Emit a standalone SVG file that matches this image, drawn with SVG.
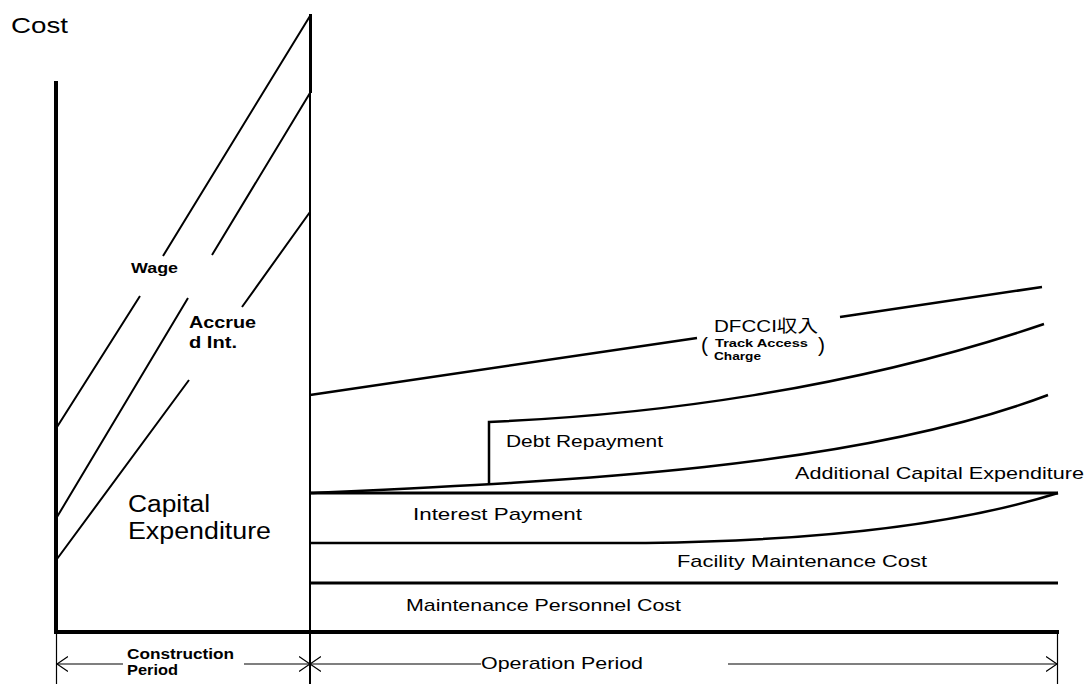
<svg xmlns="http://www.w3.org/2000/svg" width="1089" height="684" viewBox="0 0 1089 684">
  <style>
    .ln { fill: none; stroke: #000; stroke-linecap: butt; }
    .axis { stroke-width: 4; }
    .diag { stroke-width: 2; }
    .band { stroke-width: 3; }
    .curve { stroke-width: 2.5; }
    .dim { stroke-width: 1.2; }
    .t { font-family: "Liberation Sans", "Noto Sans CJK JP", sans-serif; fill: #000; }
    .b { font-weight: bold; }
  </style>
  <defs>
    <marker id="arr" viewBox="0 0 12 16" refX="11" refY="8" markerWidth="12" markerHeight="16" orient="auto-start-reverse" markerUnits="userSpaceOnUse">
      <path d="M0,0.5 L11,8 L0,15.5" fill="none" stroke="#000" stroke-width="1.2"/>
    </marker>
  </defs>

  <!-- axes and period boundaries -->
  <g id="axes">
    <text class="t" x="11" y="33" font-size="22" textLength="57" lengthAdjust="spacingAndGlyphs">Cost</text>
    <line class="ln axis" x1="56" y1="81" x2="56" y2="632"/>
    <line class="ln axis" x1="54" y1="632" x2="1059" y2="632"/>
    <line class="ln" stroke-width="1.2" x1="56.5" y1="632" x2="56.5" y2="684"/>
    <line class="ln" stroke-width="1.2" x1="1057.5" y1="632" x2="1057.5" y2="684"/>
    <line class="ln" stroke-width="2" x1="310" y1="14" x2="310" y2="684"/>
    <line class="ln" stroke-width="3" x1="310.5" y1="14" x2="310.5" y2="93"/>
  </g>

  <!-- construction period: stacked diagonals -->
  <g id="construction">
    <path class="ln diag" d="M310,16 L163,256 M140,296 L57,427"/>
    <path class="ln diag" d="M310,93 L212,255 M188,298 L57,517"/>
    <path class="ln diag" d="M310,212 L242,307 M189,380 L57,559"/>
    <text class="t b" x="131" y="273" font-size="15" textLength="47" lengthAdjust="spacingAndGlyphs">Wage</text>
    <text class="t b" x="189" y="328" font-size="16" textLength="67" lengthAdjust="spacingAndGlyphs">Accrue</text>
    <text class="t b" x="189" y="348" font-size="16" textLength="48" lengthAdjust="spacingAndGlyphs">d Int.</text>
    <text class="t" x="128" y="512" font-size="23" textLength="82" lengthAdjust="spacingAndGlyphs">Capital</text>
    <text class="t" x="128" y="539" font-size="23" textLength="143" lengthAdjust="spacingAndGlyphs">Expenditure</text>
  </g>

  <!-- operation period: cost bands -->
  <g id="revenue">
    <path class="ln curve" d="M310,395 L697,338 M840,317 L1042,287"/>
    <text class="t" x="714" y="332" font-size="17" textLength="104" lengthAdjust="spacingAndGlyphs">DFCCI収入</text>
    <text class="t" x="701" y="352" font-size="20" textLength="7" lengthAdjust="spacingAndGlyphs">(</text>
    <text class="t" x="818" y="352" font-size="20" textLength="7" lengthAdjust="spacingAndGlyphs">)</text>
    <text class="t b" x="715" y="347" font-size="10" textLength="93" lengthAdjust="spacingAndGlyphs">Track Access</text>
    <text class="t b" x="714" y="360" font-size="10" textLength="47" lengthAdjust="spacingAndGlyphs">Charge</text>
  </g>

  <g id="debt-repayment">
    <path class="ln curve" d="M489,485 L489,422 C650,415 850,390 1044,324"/>
    <text class="t" x="506" y="447" font-size="17" textLength="157" lengthAdjust="spacingAndGlyphs">Debt Repayment</text>
  </g>

  <g id="additional-capex">
    <path class="ln curve" d="M310,493 C550,482 850,470 1048,395"/>
    <text class="t" x="795" y="479" font-size="17" textLength="289" lengthAdjust="spacingAndGlyphs">Additional Capital Expenditure</text>
  </g>

  <g id="interest-payment">
    <line class="ln band" x1="310" y1="493" x2="1058" y2="493"/>
    <text class="t" x="413" y="520" font-size="17" textLength="169" lengthAdjust="spacingAndGlyphs">Interest Payment</text>
  </g>

  <g id="facility-maintenance">
    <path class="ln curve" d="M310,543 L646,543 C800,541 950,527 1058,493"/>
    <text class="t" x="677" y="567" font-size="17" textLength="250" lengthAdjust="spacingAndGlyphs">Facility Maintenance Cost</text>
  </g>

  <g id="personnel">
    <line class="ln band" x1="310" y1="583" x2="1058" y2="583"/>
    <text class="t" x="406" y="611" font-size="17" textLength="275" lengthAdjust="spacingAndGlyphs">Maintenance Personnel Cost</text>
  </g>

  <!-- period dimension lines -->
  <g id="connectors">
    <line class="ln dim" x1="57" y1="664" x2="123" y2="664" marker-start="url(#arr)"/>
    <line class="ln dim" x1="244" y1="664" x2="310" y2="664" marker-end="url(#arr)"/>
    <line class="ln dim" x1="310" y1="664" x2="481" y2="664" marker-start="url(#arr)"/>
    <line class="ln dim" x1="728" y1="664" x2="1057" y2="664" marker-end="url(#arr)"/>
  </g>
  <g id="period-labels">
    <text class="t b" x="127" y="659" font-size="14" textLength="107" lengthAdjust="spacingAndGlyphs">Construction</text>
    <text class="t b" x="127" y="675" font-size="14" textLength="51" lengthAdjust="spacingAndGlyphs">Period</text>
    <text class="t" x="481" y="669" font-size="17" textLength="162" lengthAdjust="spacingAndGlyphs">Operation Period</text>
  </g>
</svg>
